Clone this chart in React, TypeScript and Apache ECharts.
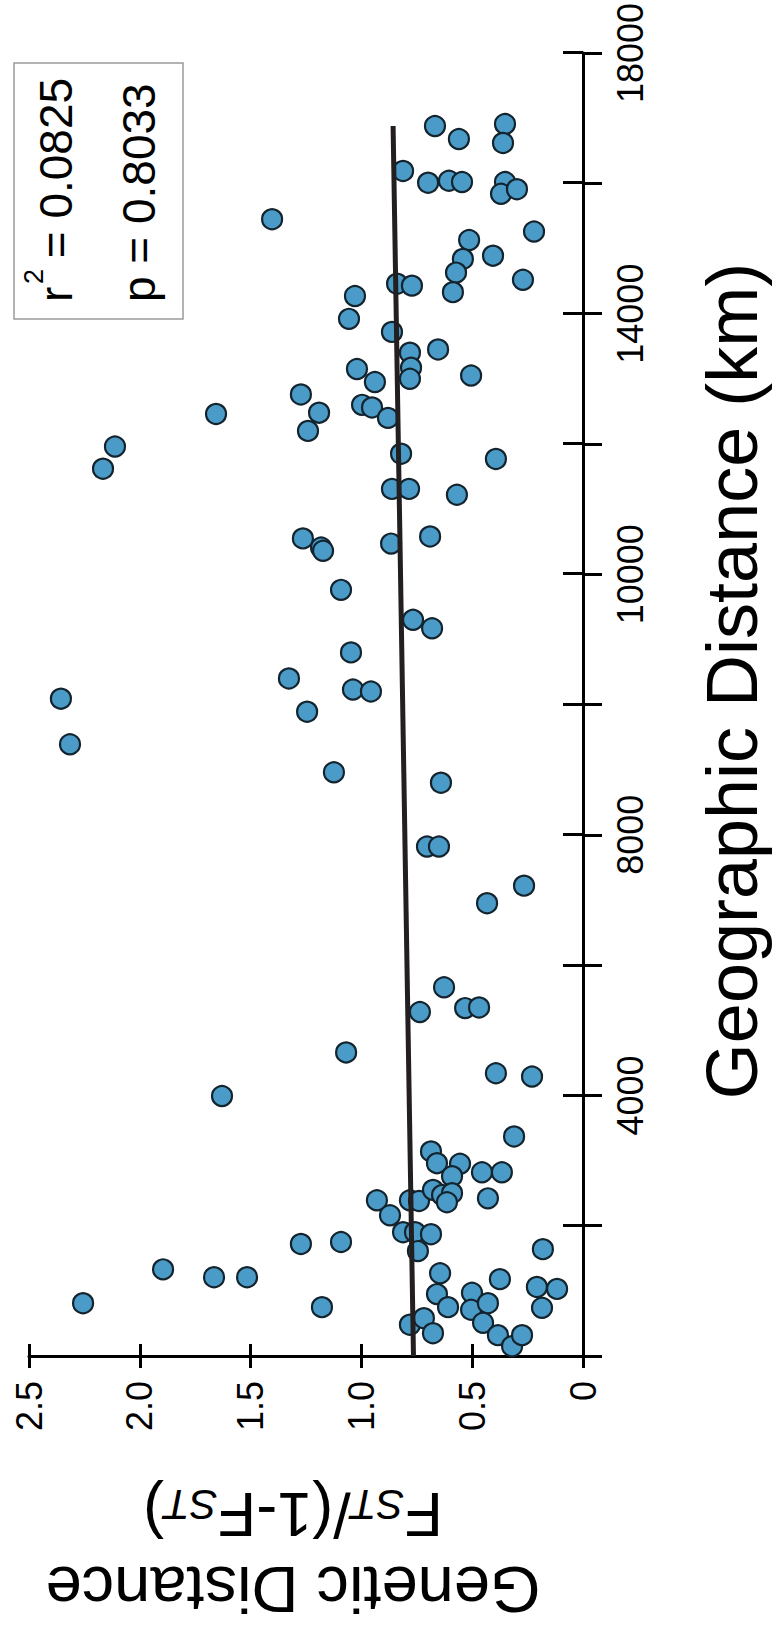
import React, { useEffect, useRef } from "react";
import * as echarts from "echarts";

// Genetic distance Fst/(1-Fst) of each population pair
const geneticDistance = [
  0.668, 0.56, 0.352, 0.361, 0.812, 0.699, 0.605, 0.546, 0.352, 0.37,
  0.298, 1.403, 0.221, 0.514, 0.542, 0.573, 0.587, 0.406, 0.271, 0.839,
  0.772, 1.029, 1.056, 0.862, 0.781, 0.776, 0.781, 0.654, 0.505, 1.02,
  0.939, 1.273, 1.191, 0.997, 0.952, 0.88, 1.241, 0.821, 0.393, 0.862,
  0.785, 0.569, 1.264, 1.182, 1.173, 0.866, 0.69, 1.092, 0.767, 0.681,
  1.047, 1.327, 1.038, 0.957, 1.245, 1.656, 2.112, 2.166, 2.356, 2.315,
  1.629, 1.895, 2.256, 1.665, 1.516, 1.124, 0.641, 0.704, 0.65, 0.266,
  0.433, 0.627, 0.736, 0.532, 0.469, 1.069, 0.393, 0.23, 0.311, 0.686,
  0.659, 0.555, 0.591, 0.456, 0.366, 0.93, 0.781, 0.74, 0.677, 0.636,
  0.591, 0.614, 0.429, 0.871, 0.812, 0.758, 0.686, 0.745, 1.273, 1.092,
  1.178, 0.181, 0.645, 0.375, 0.659, 0.609, 0.501, 0.505, 0.429, 0.451,
  0.384, 0.32, 0.275, 0.208, 0.117, 0.185, 0.781, 0.718, 0.677,
];

// Geographic distance (km) of each population pair
const geographicDistance = [
  18880, 18680, 18910, 18620, 18190, 18010, 18040, 18020, 18020, 17840,
  17910, 17450, 17260, 17130, 16840, 16630, 16330, 16890, 16520, 16460,
  16430, 16270, 15920, 15720, 15400, 15170, 15000, 15450, 15050, 15150,
  14950, 14760, 14480, 14600, 14560, 14400, 14200, 13850, 13770, 13310,
  13310, 13220, 12550, 12410, 12360, 12470, 12580, 11760, 11300, 11170,
  10800, 10400, 10230, 10200, 9890, 14460, 13960, 13620, 10090, 9390,
  3990, 1330, 810, 1210, 1210, 8960, 8800, 7820, 7820, 7220,
  6950, 5660, 5280, 5340, 5350, 4660, 4340, 4290, 3370, 3140,
  2960, 2950, 2760, 2820, 2820, 2390, 2390, 2380, 2550, 2470,
  2500, 2360, 2420, 2160, 1900, 1900, 1870, 1610, 1720, 1750,
  750, 1640, 1270, 1180, 950, 750, 970, 710, 810, 510,
  320, 150, 320, 1060, 1030, 740, 480, 580, 350,
];

// Regression line end points
const regressionGeo = [0, 18880];
const regressionGen = [0.765, 0.857];

// Tick labels of the geographic axis, as printed in the figure
const geoLabelValues = [4000, 8000, 12000, 16000, 20000];
const geoLabelTexts = ["4000", "8000", "10000", "14000", "18000"];

// Statistics box
const statR2 = "0.0825";
const statP = "0.8033";

const FONT = "'Liberation Sans', Arial, Helvetica, sans-serif";

export default function App() {
  const ref = useRef<HTMLDivElement>(null);

  useEffect(() => {
    if (!ref.current) return;
    const chart = echarts.init(ref.current, undefined, { renderer: "svg" });
    const gridBox = { left: 29, right: 191, top: 52, bottom: 269 };
    const tickLine = { color: "#000", width: 3 };

    const option: any = {
      animation: false,
      backgroundColor: "#ffffff",
      grid: [
        { ...gridBox, containLabel: false },
        { ...gridBox, containLabel: false },
      ],
      xAxis: [
        {
          type: "value",
          gridIndex: 0,
          min: 0,
          max: 2.5,
          interval: 0.5,
          inverse: true,
          position: "bottom",
          axisLine: { show: true, onZero: false, lineStyle: tickLine },
          axisTick: { show: true, inside: false, length: 12, lineStyle: tickLine },
          axisLabel: {
            show: true,
            rotate: 90,
            margin: 25,
            fontSize: 36,
            color: "#000",
            fontFamily: FONT,
            showMinLabel: true,
            showMaxLabel: true,
            formatter: (v: number) => (v === 0 ? "0" : v.toFixed(1)),
          },
          splitLine: { show: false },
        },
        {
          type: "value",
          gridIndex: 1,
          min: 0,
          max: 2.5,
          interval: 0.5,
          inverse: true,
          position: "bottom",
          axisLine: { show: false, onZero: false },
          axisTick: { show: true, inside: true, length: 12, lineStyle: tickLine },
          axisLabel: { show: false },
          splitLine: { show: false },
        },
      ],
      yAxis: [
        {
          type: "value",
          gridIndex: 0,
          min: 0,
          max: 20000,
          interval: 2000,
          position: "right",
          axisLine: { show: true, onZero: false, lineStyle: tickLine },
          axisTick: { show: true, inside: false, length: 19, lineStyle: tickLine },
          axisLabel: {
            show: true,
            rotate: 90,
            margin: 29,
            fontSize: 36,
            color: "#000",
            fontFamily: FONT,
            showMinLabel: true,
            showMaxLabel: true,
            formatter: (v: number) => {
              const i = geoLabelValues.indexOf(v);
              return i >= 0 ? geoLabelTexts[i] : "";
            },
          },
          splitLine: { show: false },
        },
        {
          type: "value",
          gridIndex: 1,
          min: 0,
          max: 20000,
          interval: 2000,
          position: "right",
          axisLine: { show: false, onZero: false },
          axisTick: { show: true, inside: true, length: 20, lineStyle: tickLine },
          axisLabel: { show: false },
          splitLine: { show: false },
        },
      ],
      series: [
        {
          type: "scatter",
          xAxisIndex: 0,
          yAxisIndex: 0,
          data: geneticDistance.map((g, i) => [g, geographicDistance[i]]),
          symbol: "circle",
          symbolSize: 20,
          itemStyle: {
            color: "#4a9bc7",
            borderColor: "#14242e",
            borderWidth: 2.2,
            opacity: 1,
          },
          z: 2,
          silent: true,
        },
        {
          type: "line",
          xAxisIndex: 0,
          yAxisIndex: 0,
          data: regressionGen.map((g, i) => [g, regressionGeo[i]]),
          symbol: "none",
          lineStyle: { color: "#231f20", width: 5 },
          z: 3,
          silent: true,
        },
      ],
      graphic: [
        {
          type: "rect",
          shape: { x: 14, y: 63, width: 169, height: 256 },
          style: { fill: "#ffffff", stroke: "#9a9a9a", lineWidth: 1.5 },
          z: 10,
        },
        {
          type: "text",
          x: 56,
          y: 302,
          rotation: Math.PI / 2,
          z: 11,
          style: {
            text: "r",
            font: `46px ${FONT}`,
            fill: "#000",
            align: "left",
            verticalAlign: "middle",
          },
        },
        {
          type: "text",
          x: 34,
          y: 284,
          rotation: Math.PI / 2,
          z: 11,
          style: {
            text: "2",
            font: `27px ${FONT}`,
            fill: "#000",
            align: "left",
            verticalAlign: "middle",
          },
        },
        {
          type: "text",
          x: 56,
          y: 271,
          rotation: Math.PI / 2,
          z: 11,
          style: {
            text: ` = ${statR2}`,
            font: `46px ${FONT}`,
            fill: "#000",
            align: "left",
            verticalAlign: "middle",
          },
        },
        {
          type: "text",
          x: 139,
          y: 302,
          rotation: Math.PI / 2,
          z: 11,
          style: {
            text: `p = ${statP}`,
            font: `46px ${FONT}`,
            fill: "#000",
            align: "left",
            verticalAlign: "middle",
          },
        },
        {
          type: "text",
          x: 732,
          y: 681,
          rotation: Math.PI / 2,
          style: {
            text: "Geographic Distance (km)",
            font: `72px ${FONT}`,
            fill: "#000",
            align: "center",
            verticalAlign: "middle",
          },
        },
        {
          type: "text",
          x: 293,
          y: 1589,
          rotation: Math.PI,
          style: {
            text: "Genetic Distance",
            font: `65px ${FONT}`,
            fill: "#000",
            align: "center",
            verticalAlign: "middle",
          },
        },
        {
          type: "text",
          x: 293,
          y: 1515,
          rotation: Math.PI,
          style: {
            text: "{F|F}{S|ST}{F|/(1-F}{S|ST}{F|)}",
            fill: "#000",
            align: "center",
            verticalAlign: "middle",
            rich: {
              F: {
                fontSize: 63,
                fontFamily: FONT,
                lineHeight: 63,
                verticalAlign: "bottom",
                color: "#000",
              },
              S: {
                fontSize: 42,
                fontFamily: FONT,
                fontStyle: "italic",
                lineHeight: 48.5,
                verticalAlign: "bottom",
                color: "#000",
              },
            },
          },
        },
      ],
    };

    chart.setOption(option);
    return () => chart.dispose();
  }, []);

  return (
    <div
      ref={ref}
      style={{ position: "absolute", left: 0, top: 0, width: 774, height: 1625, background: "#fff" }}
    />
  );
}
